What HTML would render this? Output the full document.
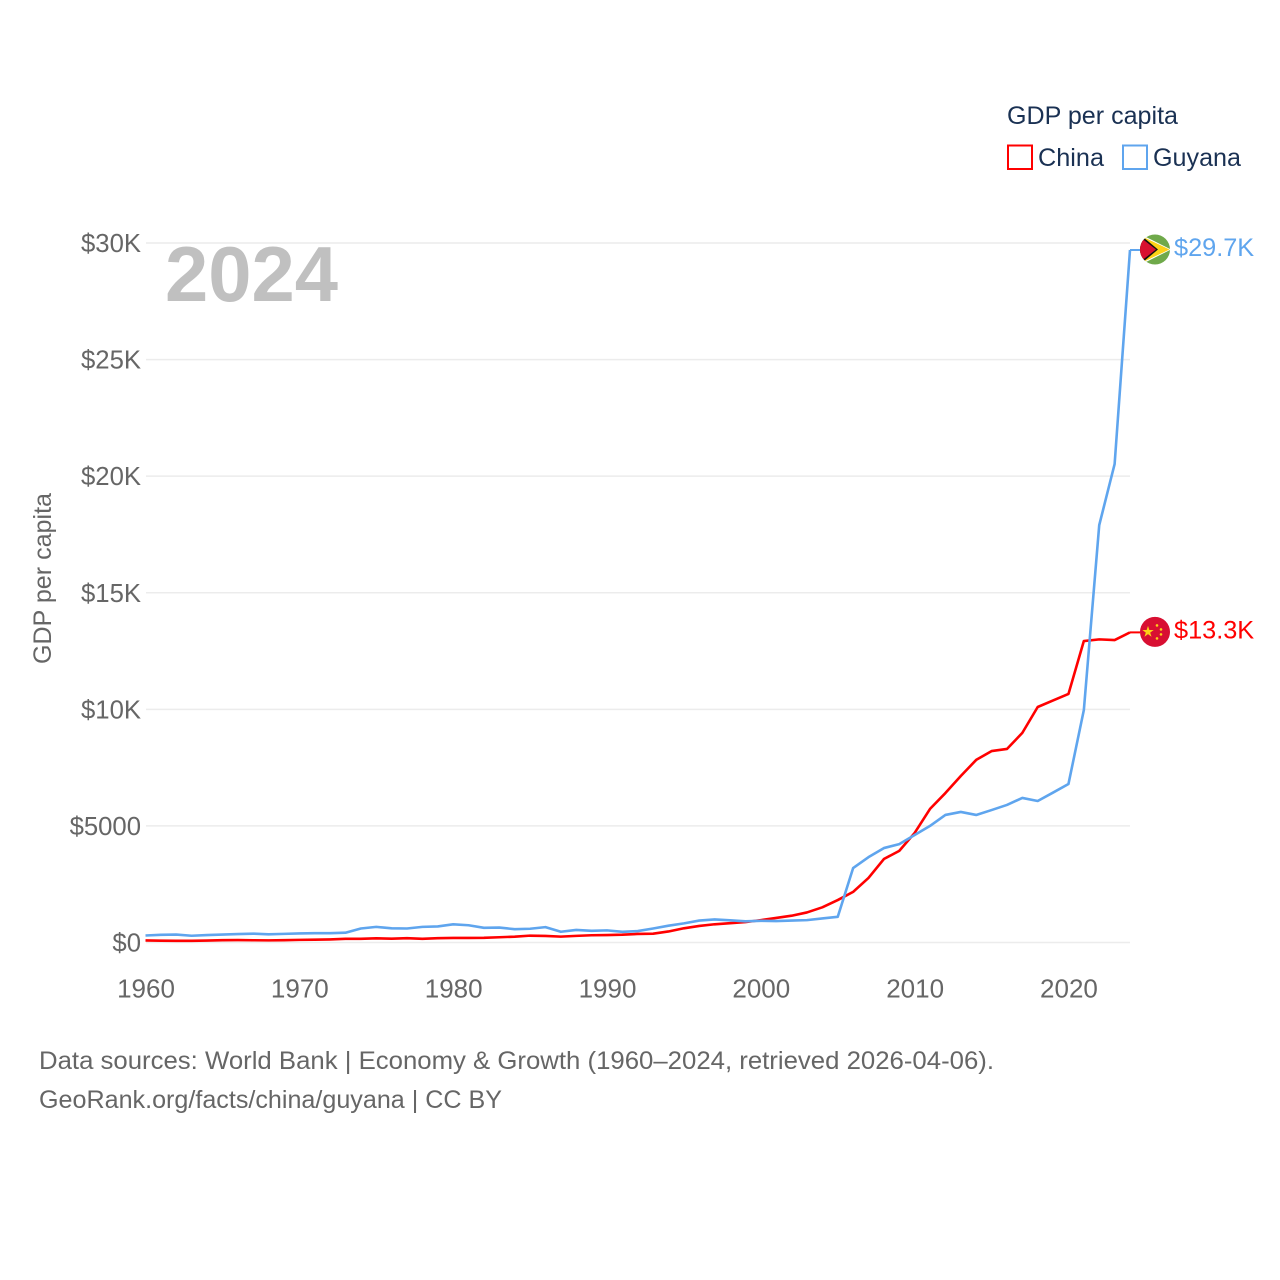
<!DOCTYPE html>
<html lang="en">
<head>
<meta charset="utf-8">
<title>GDP per capita: China and Guyana</title>
<style>
html,body{margin:0;padding:0;background:#fff;width:1280px;height:1280px;overflow:hidden}
svg{display:block}
text{font-family:"Liberation Sans",sans-serif}
</style>
</head>
<body>
<svg id="chart" width="1280" height="1280" viewBox="0 0 1280 1280" xmlns="http://www.w3.org/2000/svg">
  <rect width="1280" height="1280" fill="#fff"/>
  <g id="grid"></g>
  <g id="yticks"></g>
  <g id="xticks"></g>
  <text x="165" y="301" font-size="78" font-weight="bold" fill="#c0c0c0" textLength="173" lengthAdjust="spacingAndGlyphs">2024</text>
  <text transform="translate(51,578.5) rotate(-90)" text-anchor="middle" font-size="25" fill="#666" textLength="171" lengthAdjust="spacingAndGlyphs">GDP per capita</text>
  <g id="series"></g>
  <g id="ends"></g>
  <g>
    <text x="1007" y="124" font-size="25" fill="#1a3153" textLength="171" lengthAdjust="spacingAndGlyphs">GDP per capita</text>
    <g>
      <rect x="1008" y="145.500" width="24" height="23.500" fill="#fff" stroke="#ff0000" stroke-width="2"/>
      <text x="1038" y="166" font-size="25" fill="#1a3153" textLength="66" lengthAdjust="spacingAndGlyphs">China</text>
    </g>
    <g>
      <rect x="1123" y="145.500" width="24" height="23.500" fill="#fff" stroke="#5fa5ee" stroke-width="2"/>
      <text x="1153" y="166" font-size="25" fill="#1a3153" textLength="88" lengthAdjust="spacingAndGlyphs">Guyana</text>
    </g>
  </g>
  <g>
    <text x="39" y="1069" font-size="25" fill="#666" textLength="955" lengthAdjust="spacingAndGlyphs">Data sources: World Bank | Economy &amp; Growth (1960–2024, retrieved 2026-04-06).</text>
    <text x="39" y="1108" font-size="25" fill="#666" textLength="463" lengthAdjust="spacingAndGlyphs">GeoRank.org/facts/china/guyana | CC BY</text>
  </g>
</svg>
<script>
const years = [];
for (let y = 1960; y <= 2024; y++) years.push(y);

const china = [90,76,72,74,85,98,104,97,91,100,113,119,132,157,160,178,165,185,156,184,195,197,203,225,251,294,282,252,284,311,318,334,367,377,473,610,709,782,829,873,959,1053,1149,1289,1509,1820,2170,2770,3580,3930,4700,5730,6410,7140,7830,8210,8300,8990,10100,10380,10660,12930,13000,12970,13300];
const guyana = [300,330,340,290,320,340,360,380,350,370,390,400,400,420,600,670,610,600,670,690,780,740,630,640,570,590,660,460,540,500,520,460,490,600,720,820,940,990,950,910,930,920,940,960,1030,1100,3190,3660,4050,4220,4610,5000,5470,5600,5470,5680,5900,6200,6070,6430,6800,9970,17900,20520,29700];

const yTickValues = [0,5000,10000,15000,20000,25000,30000];
const yTickLabels = ["$0","$5000","$10K","$15K","$20K","$25K","$30K"];
const xTickValues = [1960,1970,1980,1990,2000,2010,2020];
const xTickLabels = ["1960","1970","1980","1990","2000","2010","2020"];

const NS = "http://www.w3.org/2000/svg";
const xScale = v => 145.500 + (v - 1960) * (1130 - 145.500) / 64;
const yScale = v => 942.5 - v * (942.5 - 243) / 30000;

function make(tag, attrs, parent, content) {
  const el = document.createElementNS(NS, tag);
  for (const k in attrs) el.setAttribute(k, attrs[k]);
  if (content !== undefined) el.textContent = content;
  parent.appendChild(el);
  return el;
}

const grid = document.getElementById("grid");
const yticksG = document.getElementById("yticks");
const xticksG = document.getElementById("xticks");
const seriesG = document.getElementById("series");
const endsG = document.getElementById("ends");

yTickValues.forEach((v, i) => {
  const line = make("line", {x1: 146, x2: 1130, y1: yScale(v), y2: yScale(v), stroke: "#ececec", "stroke-width": 1.5}, grid);
  
  
  const t = make("text", {x: 141, y: yScale(v) + 9, "text-anchor": "end", "font-size": 25.7, fill: "#666"}, yticksG, yTickLabels[i]);
  
  
});

xTickValues.forEach((v, i) => {
  const t = make("text", {x: xScale(v) + 0.5, y: 997.5, "text-anchor": "middle", "font-size": 26, fill: "#666"}, xticksG, xTickLabels[i]);
  
  
});

function pathFor(values) {
  return values.map((v, i) => (i ? "L" : "M") + xScale(years[i]).toFixed(2) + " " + yScale(v).toFixed(2)).join("");
}
function formatValue(v) {
  return "$" + (v / 1000).toFixed(1) + "K";
}

const chinaLine = make("path", {d: pathFor(china), fill: "none", stroke: "#ff0000", "stroke-width": 2.6, "stroke-linejoin": "round"}, seriesG);


const guyanaLine = make("path", {d: pathFor(guyana), fill: "none", stroke: "#5fa5ee", "stroke-width": 2.6, "stroke-linejoin": "round"}, seriesG);



function endLabel(values, color) {
  const last = values[values.length - 1];
  const y = yScale(last);
  const x = xScale(2024);
  const stub = make("line", {x1: x, x2: x + 10, y1: y, y2: y, stroke: color, "stroke-width": 2}, endsG);
  const g = make("g", {transform: "translate(" + (x + 25) + "," + (y - 0.5) + ")"}, endsG);
  const label = make("text", {x: x + 44, y: y + 6, "font-size": 25.3, fill: color}, endsG, formatValue(last));
  return {stub, g, label};
}

const gyEnd = endLabel(guyana, "#5fa5ee");






gyEnd.g.innerHTML =
  '<circle r="15" fill="#6fa94a"/>' +
  '<clipPath id="gyclip"><circle r="15"/></clipPath>' +
  '<g clip-path="url(#gyclip)">' +
  '<polygon points="-15,-15.500 16,0 -15,15.500" fill="#fff"/>' +
  '<polygon points="-15,-14 14.500,0 -15,14" fill="#fcd116"/>' +
  '<polygon points="-15,-15 3,0 -15,15" fill="#111"/>' +
  '<polygon points="-15,-12.500 1,0 -15,12.500" fill="#d8102f"/>' +
  '</g>';

const cnEnd = endLabel(china, "#ff0000");






cnEnd.g.innerHTML =
  '<circle r="15" fill="#d80f32"/>' +
  '<polygon transform="translate(-7,0) scale(6)" points="0,-1 0.225,-0.309 0.951,-0.309 0.363,0.118 0.588,0.809 0,0.382 -0.588,0.809 -0.363,0.118 -0.951,-0.309 -0.225,-0.309" fill="#fcd116"/>' +
  '<circle cx="2" cy="-6.500" r="1.300" fill="#fcd116"/>' +
  '<circle cx="6" cy="-2.500" r="1.300" fill="#fcd116"/>' +
  '<circle cx="6" cy="2.500" r="1.300" fill="#fcd116"/>' +
  '<circle cx="2" cy="6.500" r="1.300" fill="#fcd116"/>';
</script>
</body>
</html>
